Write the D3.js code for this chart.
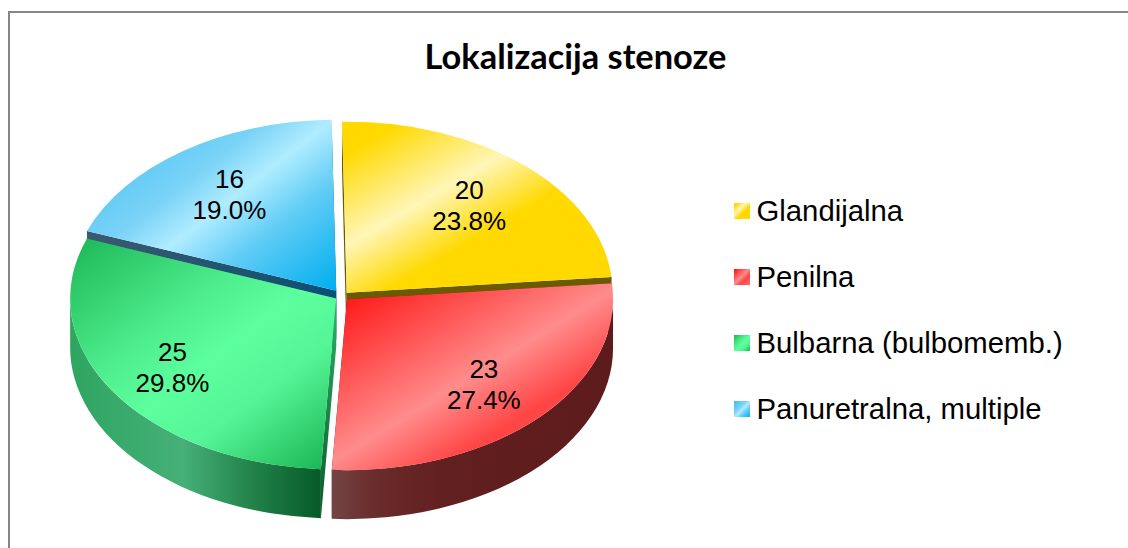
<!DOCTYPE html>
<html>
<head>
<meta charset="utf-8">
<script src="https://cdn.jsdelivr.net/npm/d3@7"></script>
<style>
  html, body { margin: 0; padding: 0; background: #fff; }
  svg { display: block; }
  text { font-family: "Liberation Sans", Arial, sans-serif; fill: #000; }
</style>
</head>
<body>
<div id="chart"></div>
<script>
var categories = ["Glandijalna", "Penilna", "Bulbarna (bulbomemb.)", "Panuretralna, multiple"];
var values = [20, 23, 25, 16];
var percentLabels = ["23.8%", "27.4%", "29.8%", "19.0%"];
var title = "Lokalizacija stenoze";

var width = 1128,
  height = 548,
  cx = 342,
  cy = 296,
  rx = 266,
  ry = 171,
  depth = 49,
  explode = [7, 7, 7, 10],
  startDeg = -1,
  labelFrac = [0.69, 0.715, 0.735, 0.695];

// colour ramps along the diagonal of each slice: [offset in px, colour]
var ramps = [
  {dir: [0.505, 0.865], stops: [[0, "#FFD900"], [30, "#FFD900"], [109, "#FFF6B8"], [168, "#FFD900"], [290, "#FFD900"]], face: ["#6B5B00", "#6B5B00"], faceDir: "x"},
  {dir: [0.52, 0.85], stops: [[0, "#FF1414"], [20, "#FF1A1A"], [153, "#FF8C8C"], [215, "#FF4444"], [320, "#FF6A6A"]], face: ["#5E1B1B", "#5E1B1B"], faceDir: "x"},
  {dir: [0.6, 0.8], stops: [[0, "#1CB655"], [120, "#4DEB8C"], [180, "#5CFF9E"], [240, "#55F597"], [336, "#1CB655"]], face: ["#2DB369", "#065A28"], faceDir: "y"},
  {dir: [0.613, 0.79], stops: [[0, "#3FBCF0"], [110, "#7AD3F7"], [151, "#B0ECFF"], [200, "#62CDF5"], [287, "#00AEEF"]], face: ["#3C5A70", "#0B4F74"], faceDir: "x"}
];
var wallStops = [
  null,
  [[0, "#744444"], [0.15, "#6A2C2C"], [0.4, "#621F1F"], [1, "#5E1B1B"]],
  [[0, "#2FA560"], [0.45, "#45B078"], [0.72, "#23834B"], [1, "#065A28"]],
  null
];

var svg = d3.select("#chart").append("svg")
  .attr("width", width)
  .attr("height", height);
var defs = svg.append("defs");

// chart frame, right and bottom sides run past the page
svg.append("rect")
  .attr("x", 9)
  .attr("y", 12)
  .attr("width", 1200)
  .attr("height", 600)
  .attr("fill", "#fff")
  .attr("stroke", "#868686")
  .attr("stroke-width", 2);

svg.append("text")
  .attr("x", 575.5)
  .attr("y", 69)
  .attr("text-anchor", "middle")
  .style("font-family", "Lato, sans-serif")
  .style("font-weight", 700)
  .style("font-size", "34.4px")
  .text(title);

var pie = d3.pie()
  .sort(null)
  .startAngle(startDeg * Math.PI / 180)
  .endAngle((startDeg + 360) * Math.PI / 180);

var slices = pie(values).map(function(d, i) {
  var mid = (d.startAngle + d.endAngle) / 2;
  d.i = i;
  d.mid = mid;
  d.ox = cx + explode[i] * Math.sin(mid);
  d.oy = cy - explode[i] * Math.cos(mid) * ry / rx;
  return d;
});

function px(d, a) { return d.ox + rx * Math.sin(a); }
function py(d, a) { return d.oy - ry * Math.cos(a); }

// side of a slice along one radius
function facePath(d, a) {
  return "M" + d.ox + "," + d.oy +
    "L" + px(d, a) + "," + py(d, a) +
    "L" + px(d, a) + "," + (py(d, a) + depth) +
    "L" + d.ox + "," + (d.oy + depth) + "Z";
}

// visible part of the outer rim, only the lower half of the ellipse shows
function wallRange(d) {
  var a0 = Math.max(d.startAngle, Math.PI / 2),
    a1 = Math.min(d.endAngle, 3 * Math.PI / 2);
  return a1 > a0 ? [a0, a1] : null;
}

function wallPath(d, r) {
  var x0 = px(d, r[0]), y0 = py(d, r[0]), x1 = px(d, r[1]), y1 = py(d, r[1]);
  return "M" + x0 + "," + y0 +
    "A" + rx + "," + ry + " 0 0 1 " + x1 + "," + y1 +
    "L" + x1 + "," + (y1 + depth) +
    "A" + rx + "," + ry + " 0 0 0 " + x0 + "," + (y0 + depth) + "Z";
}

function topPath(d) {
  var large = d.endAngle - d.startAngle > Math.PI ? 1 : 0;
  return "M" + d.ox + "," + d.oy +
    "L" + px(d, d.startAngle) + "," + py(d, d.startAngle) +
    "A" + rx + "," + ry + " 0 " + large + " 1 " + px(d, d.endAngle) + "," + py(d, d.endAngle) + "Z";
}

function addStops(grad, stops, len) {
  stops.forEach(function(s) {
    grad.append("stop")
      .attr("offset", s[0] / len)
      .attr("stop-color", s[1]);
  });
}

slices.forEach(function(d) {
  var ramp = ramps[d.i],
    last = ramp.stops[ramp.stops.length - 1][0];

  // gradient in screen space, starting at the top left of the slice box
  var xs = [d.ox, px(d, d.startAngle), px(d, d.endAngle)],
    ys = [d.oy, py(d, d.startAngle), py(d, d.endAngle)];
  d3.range(0, 360, 1).forEach(function(t) {
    var a = t * Math.PI / 180;
    if (a >= d.startAngle && a <= d.endAngle || a + 2 * Math.PI <= d.endAngle) {
      xs.push(px(d, a));
      ys.push(py(d, a));
    }
  });
  var x0 = d3.min(xs), y0 = d3.min(ys);

  var grad = defs.append("linearGradient")
    .attr("id", "top" + d.i)
    .attr("gradientUnits", "userSpaceOnUse")
    .attr("x1", x0)
    .attr("y1", y0)
    .attr("x2", x0 + ramp.dir[0] * last)
    .attr("y2", y0 + ramp.dir[1] * last);
  addStops(grad, ramp.stops, last);

  // small legend swatch uses the same colours
  var sw = defs.append("linearGradient")
    .attr("id", "sw" + d.i)
    .attr("x1", 0).attr("y1", 0).attr("x2", 1).attr("y2", 1);
  addStops(sw, ramp.stops, last);

  // both radial sides share one gradient, fitted to the visible start side
  var sx = px(d, d.startAngle), sy = py(d, d.startAngle);
  var fg = defs.append("linearGradient")
    .attr("id", "face" + d.i)
    .attr("gradientUnits", "userSpaceOnUse")
    .attr("x1", ramp.faceDir === "x" ? Math.min(sx, d.ox) : d.ox)
    .attr("y1", ramp.faceDir === "x" ? d.oy : Math.min(sy, d.oy))
    .attr("x2", ramp.faceDir === "x" ? Math.max(sx, d.ox) : d.ox)
    .attr("y2", ramp.faceDir === "x" ? d.oy : Math.max(sy, d.oy) + depth);
  addStops(fg, [[0, ramp.face[0]], [1, ramp.face[1]]], 1);

  if (wallStops[d.i]) {
    var r = wallRange(d);
    var wg = defs.append("linearGradient")
      .attr("id", "wall" + d.i)
      .attr("gradientUnits", "userSpaceOnUse")
      .attr("x1", Math.min(px(d, r[0]), px(d, r[1])))
      .attr("x2", Math.max(px(d, r[0]), px(d, r[1])))
      .attr("y1", 0)
      .attr("y2", 0);
    addStops(wg, wallStops[d.i], 1);
  }
});

// back to front
var ordered = slices.slice().sort(function(a, b) {
  return d3.descending(Math.cos(a.mid), Math.cos(b.mid));
});

var pieG = svg.append("g").attr("class", "pie");

ordered.forEach(function(d) {
  var g = pieG.append("g").attr("class", "slice");

  [d.startAngle, d.endAngle].forEach(function(a) {
    g.append("path")
      .attr("d", facePath(d, a))
      .attr("fill", "url(#face" + d.i + ")");
  });

  var r = wallRange(d);
  if (r) {
    g.append("path")
      .attr("d", wallPath(d, r))
      .attr("fill", "url(#wall" + d.i + ")");
  }

  g.append("path")
    .attr("d", topPath(d))
    .attr("fill", "url(#top" + d.i + ")");
});

// value + percent labels
var labels = svg.append("g").attr("class", "labels")
  .selectAll("text")
  .data(slices)
  .enter().append("text")
  .attr("text-anchor", "middle")
  .style("font-size", "26px")
  .attr("transform", function(d) {
    var f = labelFrac[d.i];
    return "translate(" + (d.ox + f * rx * Math.sin(d.mid)) + "," + (d.oy - f * ry * Math.cos(d.mid)) + ")";
  });
labels.append("tspan").attr("x", 0).attr("y", -6).text(function(d) { return values[d.i]; });
labels.append("tspan").attr("x", 0).attr("y", 25).text(function(d) { return percentLabels[d.i]; });

// legend
var legendY = d3.scalePoint().domain(categories).range([211, 409]);

var legend = svg.append("g").attr("class", "legend")
  .selectAll("g")
  .data(categories)
  .enter().append("g")
  .attr("transform", function(d) { return "translate(734," + legendY(d) + ")"; });

legend.append("rect")
  .attr("y", -8)
  .attr("width", 16)
  .attr("height", 16)
  .attr("fill", function(d, i) { return "url(#sw" + i + ")"; });

legend.append("text")
  .attr("x", 22.5)
  .attr("y", 10)
  .style("font-size", "29.3px")
  .text(function(d) { return d; });
</script>
</body>
</html>
